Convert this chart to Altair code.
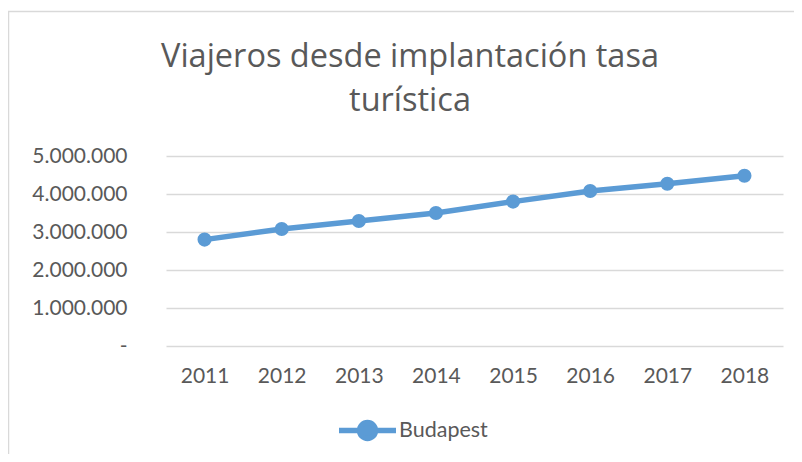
import altair as alt
import pandas as pd

years = ["2011", "2012", "2013", "2014", "2015", "2016", "2017", "2018"]
viajeros = [2800000, 3080000, 3290000, 3500000, 3800000, 4080000, 4270000, 4480000]
series_name = "Budapest"
title_lines = ["Viajeros desde implantación tasa", "turística"]

df = pd.DataFrame({"Año": years, "Viajeros": viajeros, "Serie": [series_name] * len(years)})

BLUE = "#5b9bd5"
GRAY = "#595959"
GRID = "#d9d9d9"
FONT = "Lato"

x = alt.X("Año:N", sort=years, title=None,
          scale=alt.Scale(type="point", padding=0.5),
          axis=alt.Axis(labelAngle=0, labelFontSize=21, labelFont=FONT, labelColor=GRAY,
                        ticks=False, domain=False, labelPadding=19, grid=False))
y = alt.Y("Viajeros:Q", title=None,
          scale=alt.Scale(domain=[0, 5000000]),
          axis=alt.Axis(values=[0, 1000000, 2000000, 3000000, 4000000, 5000000],
                        labelExpr="datum.value == 0 ? '-\u00a0\u00a0\u00a0' : replace(replace(format(datum.value, ','), ',', '.'), ',', '.')",
                        labelFontSize=21, labelFont=FONT, labelColor=GRAY,
                        ticks=False, domain=False, labelPadding=39,
                        gridColor=GRID, gridWidth=1.5))

line = alt.Chart(df).mark_line(color=BLUE, strokeWidth=5.5).encode(x=x, y=y)

legend_path = "M-1,0L1,0M-0.28,0A0.28,0.28,0,1,1,0.28,0A0.28,0.28,0,1,1,-0.28,0Z"
points = alt.Chart(df).mark_point(filled=True, size=200, opacity=1).encode(
    x=x, y=y,
    color=alt.Color("Serie:N", scale=alt.Scale(range=[BLUE]), title=None,
                    legend=alt.Legend(orient="none", legendX=170, legendY=243,
                                      symbolType=legend_path, symbolSize=3249,
                                      symbolStrokeWidth=5.5, symbolStrokeColor=BLUE,
                                      symbolFillColor=BLUE, symbolOpacity=1,
                                      labelFontSize=21.5, labelFont=FONT, labelColor=GRAY,
                                      labelOffset=0, padding=0))
)

one = pd.DataFrame({"a": [0]})
border_top = alt.Chart(one).mark_rule(color=GRID, strokeWidth=1.5).encode(
    x=alt.value(-158), x2=alt.value(640), y=alt.value(-144.5))
border_left = alt.Chart(one).mark_rule(color=GRID, strokeWidth=1.5).encode(
    x=alt.value(-157.5), y=alt.value(-145), y2=alt.value(300))

title = alt.Chart(one).mark_text(
    text=title_lines, font="Open Sans", fontSize=32.5, color=GRAY, align="center",
    baseline="alphabetic", lineHeight=44
).encode(x=alt.value(244), y=alt.value(-89))

chart = alt.layer(border_top, border_left, title, line, points).properties(
    width=617, height=190,
    padding={"left": 158, "top": 148, "right": 11, "bottom": 108},
    autosize=alt.AutoSizeParams(type="none"),
    background="white",
).configure_view(stroke=None)

chart.save("out.html", embed_options={"renderer": "svg", "actions": False})
